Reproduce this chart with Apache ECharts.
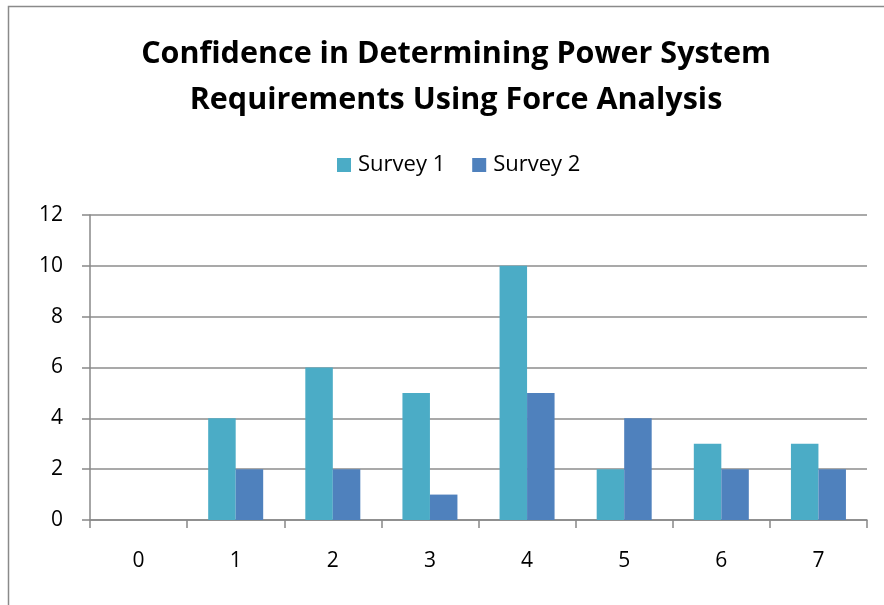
<!DOCTYPE html>
<html><head><meta charset="utf-8">
<script src="https://cdn.jsdelivr.net/npm/echarts@6/dist/echarts.min.js"></script>
<style>html,body{margin:0;padding:0;background:#fff}#c{width:884px;height:605px}</style>
</head><body><div id="c"></div>
<script>
const categories = ['0','1','2','3','4','5','6','7'];
const survey1 = [0, 4, 6, 5, 10, 2, 3, 3];
const survey2 = [0, 2, 2, 1, 5, 4, 2, 2];
const seriesNames = ['Survey 1', 'Survey 2'];
const titleText = 'Confidence in Determining Power System\nRequirements Using Force Analysis';

const chart = echarts.init(document.getElementById('c'), null, {renderer: 'canvas'});
const font = '"Open Sans", "Liberation Sans", sans-serif';
chart.setOption({
  animation: false,
  backgroundColor: '#fff',
  graphic: [{
    type: 'rect', silent: true,
    shape: {x: 8.5, y: 6.5, width: 1000, height: 1000},
    style: {fill: 'none', stroke: '#8a8a8a', lineWidth: 1.5}
  }],
  title: {
    text: titleText,
    left: 451, top: 26, textAlign: 'center',
    textStyle: {fontFamily: font, fontWeight: 'bold', fontSize: 30.5, color: '#000', lineHeight: 46}
  },
  legend: {
    data: seriesNames, top: 149, left: 332,
    itemWidth: 14, itemHeight: 14, itemGap: 27,
    icon: 'rect',
    textStyle: {fontFamily: font, fontSize: 22, color: '#000', padding: [0, 0, 0, 2]}
  },
  grid: {left: 90, right: 17, top: 215, bottom: 85},
  xAxis: {
    type: 'category', data: categories,
    axisLine: {lineStyle: {color: '#888', width: 1.5}},
    axisTick: {show: true, length: 8, lineStyle: {color: '#888', width: 1.5}},
    axisLabel: {fontFamily: font, fontSize: 21, color: '#000', margin: 31},
    splitLine: {show: false}
  },
  yAxis: {
    type: 'value', min: 0, max: 12, interval: 2,
    axisLine: {show: true, lineStyle: {color: '#888', width: 1.5}},
    axisTick: {show: true, length: 8, lineStyle: {color: '#888', width: 1.5}},
    axisLabel: {fontFamily: font, fontSize: 21, color: '#000', margin: 27},
    splitLine: {lineStyle: {color: '#8c8c8c', width: 1.5}}
  },
  series: [
    {name: seriesNames[0], type: 'bar', data: survey1, barWidth: 27.5, barGap: '0%',
     itemStyle: {color: '#4BACC6'}},
    {name: seriesNames[1], type: 'bar', data: survey2, barWidth: 27.5, barGap: '0%',
     itemStyle: {color: '#4F81BD'}}
  ]
});
</script></body></html>
